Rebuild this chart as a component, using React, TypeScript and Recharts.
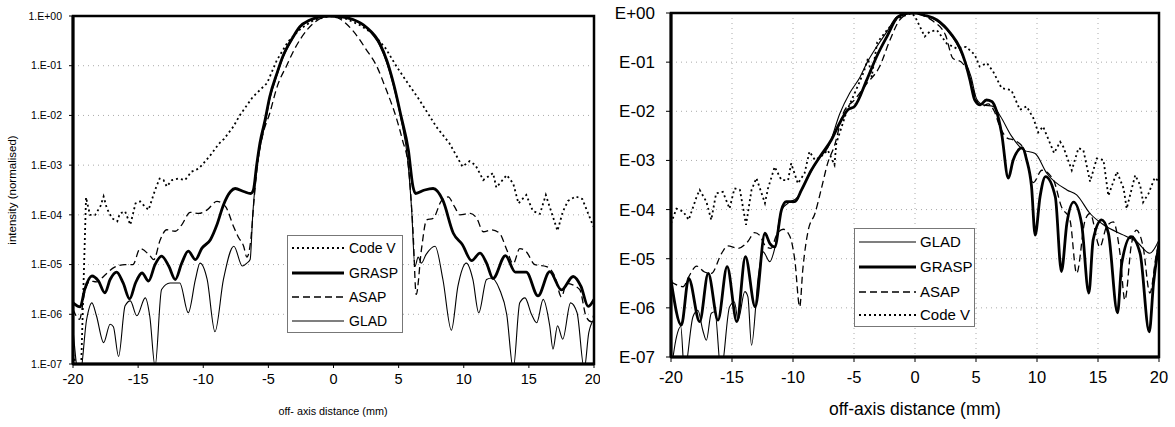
import React from 'react';
import { LineChart, Line, XAxis, YAxis, CartesianGrid, ReferenceArea, Label } from 'recharts';

// x ticks (mm) and y decades, shared by both panels
const xTicks = [-20, -15, -10, -5, 0, 5, 10, 15, 20];
const yExps = [0, -1, -2, -3, -4, -5, -6, -7];
const leftYLabels = ['1.E+00', '1.E-01', '1.E-02', '1.E-03', '1.E-04', '1.E-05', '1.E-06', '1.E-07'];
const rightYLabels = ['E+00', 'E-01', 'E-02', 'E-03', 'E-04', 'E-05', 'E-06', 'E-07'];

// left panel: [x mm, log10 intensity]
const leftCodeV = [
  [-20, -6.8], [-19.4, -7.3], [-19.0, -3.65], [-18.7, -4.0], [-18.3, -4.0], [-17.9, -3.83], [-17.65, -3.63],
  [-17.4, -3.87], [-17.0, -4.07], [-16.6, -4.13], [-16.4, -3.97], [-16.0, -3.93], [-15.6, -4.2], [-15.2, -3.77],
  [-14.85, -3.73], [-14.6, -3.8], [-14.2, -3.9], [-13.95, -3.7], [-13.7, -3.5], [-13.35, -3.27], [-13.05, -3.3],
  [-12.8, -3.43], [-12.4, -3.3], [-11.9, -3.27], [-11.4, -3.3], [-10.9, -3.13], [-10.35, -3.07], [-10.0, -2.97],
  [-9.45, -2.8], [-8.8, -2.57], [-8.4, -2.47], [-7.7, -2.23], [-7.2, -2.0], [-6.2, -1.63], [-5.1, -1.35],
  [-4.35, -0.89], [-3.5, -0.52], [-2.5, -0.25], [-1.5, -0.08], [-0.3, 0], [1, -0.06], [2, -0.18], [3, -0.35],
  [4, -0.65], [4.85, -1.02], [5.7, -1.35], [6.6, -1.69], [7.9, -2.23], [8.9, -2.56], [9.9, -3.03], [10.45, -2.92],
  [10.9, -3.0], [11.5, -3.3], [12.25, -3.16], [12.5, -3.45], [13.3, -3.2], [13.8, -3.37], [14.2, -3.77],
  [14.8, -3.6], [15.3, -3.92], [15.85, -3.98], [16.3, -3.6], [16.85, -4.04], [17.2, -4.32], [17.6, -3.94],
  [18.0, -3.72], [18.6, -3.63], [19.1, -3.68], [19.9, -4.2], [20, -4.25],
];
const leftGrasp = [
  [-20, -5.77], [-19.45, -5.85], [-19.1, -5.5], [-18.55, -5.23], [-18.05, -5.33], [-17.55, -5.57], [-17.15, -5.3],
  [-16.65, -5.15], [-16.15, -5.37], [-15.65, -5.69], [-15.2, -5.37], [-14.7, -5.17], [-14.2, -5.33], [-13.7, -5.0],
  [-13.2, -4.83], [-12.65, -5.03], [-12.15, -5.3], [-11.65, -4.97], [-11.15, -4.73], [-10.6, -4.9], [-10.1, -4.67],
  [-9.45, -4.5], [-8.95, -4.2], [-8.45, -3.8], [-7.9, -3.53], [-7.55, -3.47], [-6.9, -3.53], [-6.35, -3.57],
  [-6.15, -3.5], [-5.9, -3.0], [-5.65, -2.56], [-5.25, -2.09], [-4.9, -1.63], [-4.35, -1.16], [-3.9, -0.82],
  [-3.1, -0.42], [-2.6, -0.22], [-1.8, -0.08], [-1, -0.015], [-0.3, 0], [0.5, -0.015], [1.5, -0.07], [2.5, -0.22],
  [3.55, -0.55], [4.1, -0.9], [4.6, -1.35], [5.2, -2.03], [5.75, -2.7], [6.1, -3.43], [6.3, -3.57], [7.0, -3.5],
  [7.65, -3.47], [8.4, -3.71], [9.2, -4.37], [9.9, -4.6], [10.6, -4.92], [11.25, -4.77], [11.75, -4.97],
  [12.25, -5.28], [13.2, -4.82], [13.95, -5.15], [14.8, -5.15], [15.7, -5.63], [16.6, -5.14], [17.5, -5.51],
  [18.4, -5.24], [19.0, -5.44], [19.55, -5.84], [20, -5.7],
];
const leftAsap = [
  [-20, -5.9], [-19.5, -6.1], [-19.1, -5.55], [-18.7, -5.33], [-18.2, -5.35], [-17.5, -5.2], [-16.8, -5.05],
  [-16.0, -5.0], [-15.4, -5.0], [-14.85, -4.68], [-14.1, -4.82], [-13.8, -4.9], [-13.3, -4.5], [-12.8, -4.3],
  [-12.15, -4.33], [-11.65, -4.2], [-11.0, -3.95], [-10.35, -3.97], [-9.7, -3.9], [-8.95, -3.73], [-8.3, -3.83],
  [-7.65, -4.25], [-7.3, -4.45], [-6.9, -4.63], [-6.65, -4.85], [-6.35, -4.5], [-6.1, -3.7], [-5.8, -2.9],
  [-5.4, -2.36], [-4.9, -1.96], [-4.3, -1.4], [-3.6, -1.0], [-3.0, -0.67], [-2.0, -0.27], [-1.0, -0.05],
  [-0.3, 0], [0.5, -0.06], [1.5, -0.3], [2.5, -0.67], [3.3, -1.0], [4.0, -1.45], [4.8, -2.03], [5.3, -2.5],
  [5.75, -3.03], [6.1, -4.3], [6.35, -5.6], [6.75, -4.7], [7.15, -4.1], [7.65, -4.07], [8.3, -3.71], [8.8, -3.64],
  [9.3, -3.84], [9.7, -4.0], [10.5, -3.97], [11.0, -4.07], [11.5, -4.34], [12.15, -4.3], [12.75, -4.37],
  [13.3, -4.7], [13.8, -4.98], [14.3, -4.68], [14.8, -4.74], [15.45, -5.0], [16.35, -5.04], [17.0, -5.24],
  [17.5, -5.65], [17.9, -5.38], [18.9, -5.5], [19.4, -6.05], [19.8, -6.15], [20, -5.98],
];
const leftGlad = [
  [-20, -6.3], [-19.5, -7.3], [-18.95, -6.1], [-18.55, -5.77], [-18.2, -6.03], [-17.65, -6.57], [-17.15, -6.2],
  [-16.9, -6.25], [-16.5, -6.85], [-16.0, -5.83], [-15.6, -5.73], [-15.1, -6.03], [-14.45, -5.67], [-14.1, -6.05],
  [-13.7, -7.05], [-13.2, -5.5], [-12.55, -5.37], [-11.8, -5.37], [-11.15, -5.97], [-10.6, -5.3], [-10.25, -4.97],
  [-9.7, -5.3], [-9.1, -6.35], [-8.45, -5.3], [-7.65, -4.63], [-7.0, -5.03], [-6.65, -4.97], [-6.4, -4.9],
  [-6.2, -4.0], [-5.9, -3.1], [-5.6, -2.6], [-5.2, -2.1], [-4.9, -1.68], [-4.35, -1.2], [-3.9, -0.85],
  [-3.1, -0.44], [-2.6, -0.24], [-1.8, -0.09], [-1, -0.02], [-0.3, 0], [0.5, -0.02], [1.5, -0.08], [2.5, -0.24],
  [3.55, -0.6], [4.1, -0.95], [4.6, -1.4], [5.2, -2.1], [5.7, -2.9], [6.0, -3.9], [6.25, -5.04], [6.5, -4.85],
  [6.75, -4.97], [7.1, -4.8], [7.8, -4.63], [8.4, -5.3], [9.05, -6.32], [9.55, -5.44], [10.2, -4.97],
  [10.7, -5.3], [11.15, -5.97], [11.75, -5.3], [12.15, -5.27], [12.75, -5.5], [13.3, -6.0], [13.8, -7.1],
  [14.3, -5.77], [14.7, -5.67], [15.2, -6.0], [15.6, -6.17], [16.1, -5.7], [16.6, -6.23], [16.85, -6.7],
  [17.2, -6.23], [17.6, -6.5], [18.2, -5.77], [18.7, -5.97], [19.25, -7.1], [19.6, -6.37], [20, -6.1],
];

// right panel: [x mm, log10 intensity]
const rightGlad = [
  [-20, -7.3], [-19.55, -6.59], [-19.2, -6.38], [-18.9, -7.3], [-18.2, -6.18], [-17.8, -6.05], [-17.4, -6.45],
  [-17.1, -6.66], [-16.7, -6.11], [-16.4, -6.08], [-15.9, -7.3], [-15.2, -5.98], [-14.8, -5.88], [-14.5, -6.25],
  [-13.95, -5.67], [-13.7, -5.77], [-13.4, -6.76], [-12.85, -5.37], [-12.45, -4.86], [-11.9, -5.06],
  [-11.5, -4.79], [-10.95, -4.01], [-10.4, -3.87], [-9.6, -3.74], [-8.75, -3.33], [-7.95, -2.99], [-7.1, -2.72],
  [-6.15, -2.04], [-5.35, -1.63], [-4.5, -1.3], [-3.95, -1.02], [-3.15, -0.69], [-2.3, -0.38], [-1.5, -0.08],
  [-0.4, 0], [0.7, -0.04], [2.0, -0.2], [3.1, -0.5], [3.95, -0.9], [4.6, -1.3], [5.05, -1.75], [5.6, -1.87],
  [6.4, -1.9], [7.0, -2.1], [7.9, -2.5], [8.9, -2.79], [9.85, -2.86], [10.8, -3.26], [12.45, -3.6],
  [13.25, -3.7], [14.35, -4.08], [15.45, -4.31], [17.1, -4.52], [18.15, -4.65], [19.25, -4.89], [20, -4.62],
];
const rightGrasp = [
  [-20, -5.43], [-19.15, -6.35], [-18.55, -5.4], [-17.65, -6.28], [-16.95, -5.3], [-16.15, -6.25], [-15.4, -5.16],
  [-14.6, -6.28], [-13.9, -4.96], [-13.1, -5.98], [-12.3, -4.48], [-11.9, -4.69], [-11.5, -4.76], [-10.95, -4.01],
  [-10.55, -3.84], [-9.85, -3.84], [-9.3, -3.6], [-8.5, -3.2], [-7.7, -2.89], [-6.85, -2.58], [-6.3, -2.3],
  [-5.5, -1.97], [-4.95, -1.9], [-3.95, -1.36], [-3.15, -0.89], [-2.3, -0.48], [-1.4, -0.08], [-0.5, 0], [0.1, 0],
  [0.7, -0.04], [1.8, -0.14], [2.9, -0.41], [3.7, -0.72], [4.1, -0.99], [4.5, -1.36], [4.9, -1.77], [5.35, -1.87],
  [5.85, -1.77], [6.3, -1.8], [6.7, -2.01], [7.1, -2.45], [7.65, -3.36], [8.05, -2.99], [8.8, -2.74],
  [9.15, -2.99], [9.55, -3.53], [9.85, -4.52], [10.25, -3.74], [10.7, -3.33], [11.5, -3.74], [12.0, -5.26],
  [12.45, -4.28], [13.0, -3.85], [13.65, -4.28], [14.25, -5.7], [14.6, -4.62], [15.3, -4.21], [15.85, -4.48],
  [16.6, -6.1], [16.95, -5.09], [17.7, -4.55], [18.45, -4.89], [19.2, -6.49], [19.55, -5.5], [20, -4.7],
];
const rightAsap = [
  [-20, -5.47], [-19.0, -5.57], [-18.55, -5.37], [-17.9, -5.15], [-17.25, -5.27], [-16.7, -5.3], [-15.85, -4.89],
  [-15.35, -4.74], [-14.5, -4.79], [-13.7, -4.65], [-13.15, -4.47], [-12.75, -4.52], [-12.2, -4.76],
  [-11.8, -4.79], [-11.35, -4.52], [-10.8, -4.4], [-10.25, -4.55], [-9.85, -5.03], [-9.45, -5.98], [-9.2, -5.23],
  [-8.75, -4.42], [-8.2, -4.08], [-7.7, -3.6], [-7.15, -3.05], [-6.6, -2.7], [-5.9, -2.05], [-4.9, -1.75],
  [-4.0, -1.45], [-2.9, -1.09], [-2.05, -0.55], [-1.25, -0.14], [-0.3, 0], [0.5, -0.04], [1.5, -0.17],
  [2.5, -0.45], [3.1, -0.92], [3.8, -1.0], [4.5, -1.3], [5.0, -1.75], [5.5, -1.9], [6.0, -1.85], [6.5, -2.0],
  [6.95, -2.31], [7.6, -2.55], [8.05, -2.58], [8.9, -2.75], [9.7, -3.45], [10.4, -3.2], [11.35, -3.4],
  [12.0, -3.94], [12.7, -4.21], [13.25, -5.3], [13.95, -4.21], [14.35, -4.08], [15.15, -4.76], [15.7, -4.35],
  [16.25, -4.25], [16.8, -4.89], [17.2, -5.84], [17.75, -4.69], [18.15, -4.42], [18.7, -4.76], [19.25, -5.7],
  [19.8, -4.89], [20, -4.7],
];
const rightCodeV = [
  [-20, -4.28], [-19.55, -3.98], [-19.0, -4.04], [-18.55, -4.21], [-17.9, -3.74], [-17.65, -3.6], [-17.1, -3.84],
  [-16.7, -4.21], [-16.3, -3.67], [-15.75, -3.64], [-15.2, -3.98], [-14.8, -3.57], [-14.35, -3.6], [-13.85, -4.31],
  [-13.4, -3.6], [-13.0, -3.36], [-12.3, -3.87], [-12.05, -3.57], [-11.5, -3.13], [-10.95, -3.4], [-10.4, -3.4],
  [-10.15, -3.06], [-9.6, -3.47], [-9.05, -3.26], [-8.65, -2.82], [-8.2, -2.99], [-7.7, -2.92], [-7.15, -2.79],
  [-6.6, -3.09], [-6.45, -2.65], [-5.6, -2.0], [-4.8, -1.55], [-4.2, -1.2], [-3.85, -0.92], [-3.55, -1.3],
  [-3.1, -0.6], [-2.3, -0.35], [-1.5, -0.12], [-0.3, 0], [0.0, -0.07], [0.8, -0.48], [1.2, -0.38], [1.8, -0.35],
  [2.6, -0.62], [3.4, -0.72], [4.2, -0.69], [4.9, -0.85], [5.3, -1.09], [5.9, -1.02], [6.4, -1.19], [7.1, -1.53],
  [7.9, -1.57], [8.6, -1.97], [9.15, -1.9], [9.7, -2.14], [10.1, -2.43], [10.5, -2.31], [11.4, -2.85],
  [11.9, -2.62], [12.15, -2.72], [12.85, -3.2], [13.4, -2.75], [13.8, -2.79], [14.35, -3.43], [14.9, -2.96],
  [15.45, -2.99], [15.85, -3.72], [16.55, -3.23], [17.1, -3.57], [17.35, -3.98], [18.05, -3.3], [18.45, -3.5],
  [18.7, -3.85], [19.15, -3.67], [19.65, -3.35], [20, -3.43],
];

const FONT = 'Arial, "Liberation Sans", sans-serif';
const yTicks = yExps.map((e) => Math.pow(10, e));
const pts = (a: number[][]) => a.map(([x, e]) => ({ x, y: Math.pow(10, e) }));
const labelFor = (labels: string[]) => (v: number) => labels[yExps.indexOf(Math.round(Math.log10(v)))];

const lineStyle: Record<string, any> = {
  codeV: { strokeWidth: 1.8, strokeDasharray: '2 3', type: 'linear' },
  grasp: { strokeWidth: 2.8, type: 'monotone' },
  asap: { strokeWidth: 1.3, strokeDasharray: '7 4', type: 'monotone' },
  glad: { strokeWidth: 1.1, type: 'monotone' },
};

const Legend = ({ left, top, width, height, rows, fontSize, lineEnd, textX }: any) => (
  <svg style={{ position: 'absolute', left, top }} width={width} height={height}>
    <rect x={0.5} y={0.5} width={width - 1} height={height - 1} fill="#fff" stroke="#777" />
    {rows.map((r: any) => (
      <g key={r.name}>
        <line x1={5} x2={lineEnd} y1={r.y} y2={r.y} stroke="#000"
          strokeWidth={lineStyle[r.key].strokeWidth} strokeDasharray={lineStyle[r.key].strokeDasharray} />
        <text x={textX} y={r.y} dy="0.36em" fontSize={fontSize} fontFamily={FONT} fill="#000">{r.name}</text>
      </g>
    ))}
  </svg>
);

const App = () => {
  const renderLines = (series: [string, number[][]][]) =>
    series.map(([key, d]) => (
      <Line key={key} data={pts(d)} dataKey="y" type={lineStyle[key].type} stroke="#000"
        strokeWidth={lineStyle[key].strokeWidth} strokeDasharray={lineStyle[key].strokeDasharray}
        dot={false} activeDot={false} isAnimationActive={false} />
    ));

  return (
    <div style={{ position: 'absolute', left: 0, top: 0, width: 1175, height: 427, background: '#fff' }}>
      {/* left panel */}
      <div style={{ position: 'absolute', left: 0, top: 0 }}>
        <LineChart width={600} height={427} margin={{ top: 16, right: 6, bottom: 0, left: 0 }}>
          <CartesianGrid vertical={false} stroke="#aaa" strokeDasharray="1 4" />
          <XAxis type="number" dataKey="x" domain={[-20, 20]} ticks={xTicks} allowDataOverflow height={63}
            axisLine={{ stroke: '#000', strokeWidth: 3 }} tickLine={{ stroke: '#000' }} tickSize={4} tickMargin={6}
            tick={{ fontSize: 14.5, fill: '#000', fontFamily: FONT }}>
            <Label content={() => (
              <text x={333} y={415} textAnchor="middle" fontSize={10.8} fontFamily={FONT} fill="#000">
                off- axis distance (mm)
              </text>
            )} />
          </XAxis>
          <YAxis type="number" scale="log" domain={[1e-7, 1]} ticks={yTicks} allowDataOverflow width={73}
            axisLine={{ stroke: '#000', strokeWidth: 3 }} tickLine={{ stroke: '#000' }} tickSize={4} tickMargin={7}
            tickFormatter={labelFor(leftYLabels)} tick={{ fontSize: 10.5, fill: '#000', fontFamily: FONT }}>
            <Label content={() => (
              <text x={12} y={190} transform="rotate(-90 12 190)" textAnchor="middle" dominantBaseline="central"
                fontSize={11.5} fontFamily={FONT} fill="#000">
                intensity (normalised)
              </text>
            )} />
          </YAxis>
          <ReferenceArea x1={-20} x2={20} y1={1e-7} y2={1} fill="none" stroke="#000" strokeWidth={2.5} />
          {renderLines([['glad', leftGlad], ['asap', leftAsap], ['codeV', leftCodeV], ['grasp', leftGrasp]])}
        </LineChart>
        <Legend left={287} top={235} width={116} height={98} fontSize={14} lineEnd={57} textX={62}
          rows={[
            { key: 'codeV', name: 'Code V', y: 13 },
            { key: 'grasp', name: 'GRASP', y: 38 },
            { key: 'asap', name: 'ASAP', y: 62 },
            { key: 'glad', name: 'GLAD', y: 86 },
          ]} />
      </div>

      {/* right panel */}
      <div style={{ position: 'absolute', left: 600, top: 0 }}>
        <LineChart width={575} height={427} margin={{ top: 13, right: 16, bottom: 0, left: 0 }}>
          <CartesianGrid stroke="#aaa" strokeDasharray="1 4" />
          <XAxis type="number" dataKey="x" domain={[-20, 20]} ticks={xTicks} allowDataOverflow height={70}
            axisLine={{ stroke: '#000', strokeWidth: 3 }} tickLine={{ stroke: '#000' }} tickSize={5} tickMargin={9}
            tick={{ fontSize: 16.5, fill: '#000', fontFamily: FONT }}>
            <Label content={() => (
              <text x={315} y={415} textAnchor="middle" fontSize={17.5} fontFamily={FONT} fill="#000">
                off-axis distance (mm)
              </text>
            )} />
          </XAxis>
          <YAxis type="number" scale="log" domain={[1e-7, 1]} ticks={yTicks} allowDataOverflow width={71}
            axisLine={{ stroke: '#000', strokeWidth: 3 }} tickLine={{ stroke: '#000' }} tickSize={5} tickMargin={11}
            tickFormatter={labelFor(rightYLabels)} tick={{ fontSize: 17, fill: '#000', fontFamily: FONT }} />
          <ReferenceArea x1={-20} x2={20} y1={1e-7} y2={1} fill="none" stroke="#000" strokeWidth={2.5} />
          {renderLines([['asap', rightAsap], ['codeV', rightCodeV], ['glad', rightGlad], ['grasp', rightGrasp]])}
        </LineChart>
        <Legend left={254} top={228} width={121} height={99} fontSize={15} lineEnd={62} textX={66}
          rows={[
            { key: 'glad', name: 'GLAD', y: 14 },
            { key: 'grasp', name: 'GRASP', y: 39 },
            { key: 'asap', name: 'ASAP', y: 64 },
            { key: 'codeV', name: 'Code V', y: 87 },
          ]} />
      </div>
    </div>
  );
};

export default App;
